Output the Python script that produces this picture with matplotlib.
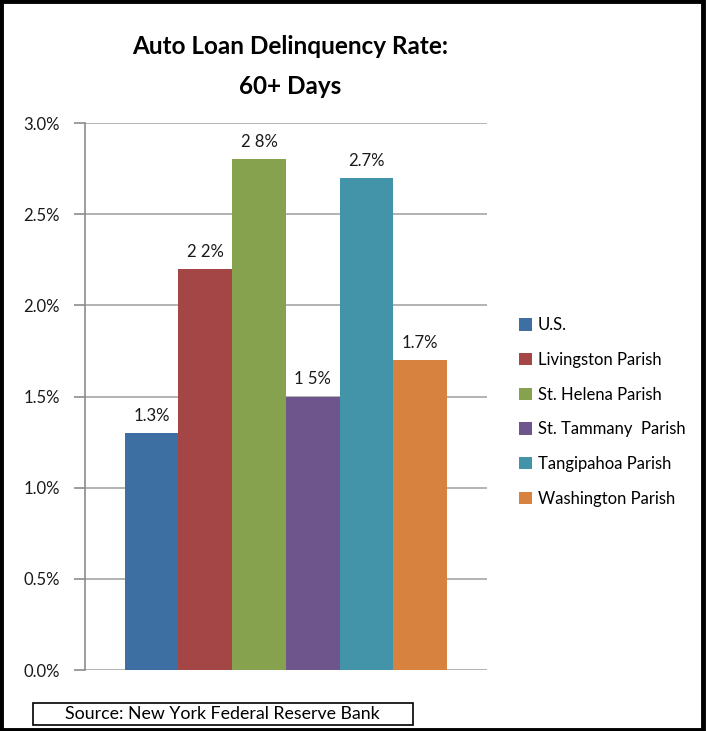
# Auto loan delinquency rate, 60+ days
import numpy as np
import matplotlib
matplotlib.use('Agg')
from matplotlib import pyplot as plt
from matplotlib.patches import Rectangle
from matplotlib.ticker import MultipleLocator, FuncFormatter

regions = ['U.S.', 'Livingston Parish', 'St. Helena Parish', 'St. Tammany  Parish',
           'Tangipahoa Parish', 'Washington Parish']
rates = [1.3, 2.2, 2.8, 1.5, 2.7, 1.7]
bar_labels = ['1.3%', '2 2%', '2 8%', '1 5%', '2.7%', '1.7%']
colors = ['#3E6FA2', '#A44645', '#87A24F', '#6E558B', '#4394A9', '#D7823F']
title_lines = ['Auto Loan Delinquency Rate:', '60+ Days']
source = 'Source: New York Federal Reserve Bank'

plt.rcParams['font.family'] = ['Lato', 'DejaVu Sans']

fig = plt.figure(figsize=(7.07, 7.31), dpi=100)
ax = fig.add_axes([0.1202, 0.0834, 0.5686, 0.7483])

x = np.arange(len(rates))
bars = []
for i in range(len(rates)):
    b = ax.bar(x[i], rates[i], width=1.0, color=colors[i], label=regions[i], zorder=3)
    bars.append(b)
    ax.text(x[i], rates[i] + 0.05, bar_labels[i], ha='center', va='bottom',
            fontsize=12, color='#1a1a1a')

ax.set_xlim(-1.24, 6.24)
ax.set_ylim(0, 3.0)
ax.yaxis.set_major_locator(MultipleLocator(0.5))
ax.yaxis.set_major_formatter(FuncFormatter(lambda v, p: '%.1f%%' % v))
ax.grid(axis='y', color='#a6a6a6', linewidth=1.2, zorder=0)
ax.set_xticks([])
for s in ['top', 'right', 'bottom']:
    ax.spines[s].set_visible(False)
ax.spines['left'].set_color('#8c8c8c')
ax.spines['left'].set_linewidth(1.2)
ax.tick_params(axis='y', direction='out', length=8, width=1.2, color='#8c8c8c',
               labelsize=12, labelcolor='#1a1a1a', pad=10)

fig.text(0.41, 1 - 46 / 731, title_lines[0], ha='center', va='center',
         fontsize=17.5, fontweight='bold')
fig.text(0.41, 1 - 87 / 731, title_lines[1], ha='center', va='center',
         fontsize=17.5, fontweight='bold')

fig.legend(handles=[b for b in bars], labels=regions, loc='center left',
           bbox_to_anchor=(0.723, 1 - 412 / 731), frameon=False, fontsize=12,
           labelspacing=1.12, handlelength=0.75, handleheight=0.75,
           handletextpad=0.35, borderpad=0)

fig.patches.append(Rectangle((33 / 707, 1 - 725 / 731), 380 / 707, 22 / 731,
                             transform=fig.transFigure, fill=False,
                             edgecolor='black', linewidth=1.2))
fig.text(222 / 707, 1 - 714 / 731, source, ha='center', va='center', fontsize=12.8)

fig.patches.append(Rectangle((0.002, 0.002), 0.993, 0.996, transform=fig.transFigure,
                             fill=False, edgecolor='black', linewidth=3.5))

fig.savefig('out.png', dpi=100)
